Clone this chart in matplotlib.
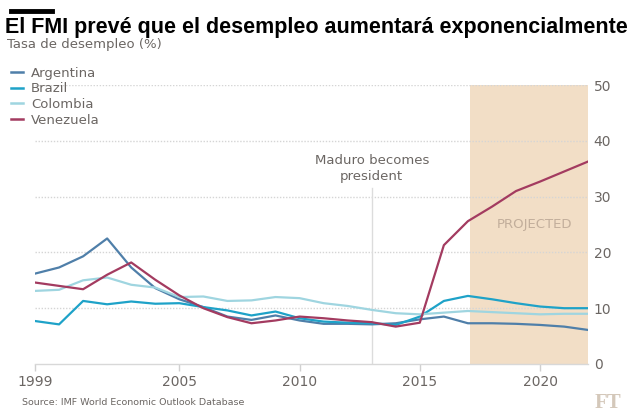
import matplotlib.pyplot as plt
from matplotlib.lines import Line2D

years = list(range(1999, 2023))

argentina = [16.2, 17.3, 19.3, 22.5, 17.3, 13.6, 11.6, 10.2, 8.5, 7.9, 8.7, 7.8,
             7.2, 7.2, 7.1, 7.3, 8.0, 8.5, 7.3, 7.3, 7.2, 7.0, 6.7, 6.1]
brazil = [7.7, 7.1, 11.3, 10.7, 11.2, 10.8, 10.9, 10.2, 9.6, 8.7, 9.4, 8.2,
          7.6, 7.4, 7.3, 7.0, 8.5, 11.3, 12.2, 11.6, 10.9, 10.3, 10.0, 10.0]
colombia = [13.1, 13.3, 15.0, 15.5, 14.2, 13.7, 12.0, 12.1, 11.3, 11.4, 12.0, 11.8,
            10.9, 10.4, 9.7, 9.1, 8.9, 9.2, 9.5, 9.3, 9.1, 8.9, 9.0, 9.0]
venezuela = [14.6, 14.0, 13.4, 16.0, 18.2, 15.1, 12.3, 10.0, 8.4, 7.3, 7.8, 8.5,
             8.2, 7.8, 7.5, 6.7, 7.4, 21.3, 25.6, 28.2, 31.0, 32.7, 34.5, 36.3]

series = [
    ("Argentina", argentina, "#4f7fa9"),
    ("Brazil", brazil, "#1ea2c8"),
    ("Colombia", colombia, "#9fd5e0"),
    ("Venezuela", venezuela, "#a33b60"),
]

x_ticks = [1999, 2005, 2010, 2015, 2020]
y_ticks = [0, 10, 20, 30, 40, 50]
projected_start, projected_end = 2017.1, 2022
maduro_year = 2013

GREY = "#6b6663"
plt.rcParams["font.family"] = ["DejaVu Sans"]

fig = plt.figure(figsize=(6.4, 4.19), dpi=100)
ax = fig.add_axes([0.0547, 0.1313, 0.8643, 0.6657])

ax.axvspan(projected_start, projected_end, ymin=0, ymax=1, color="#f2dec6", lw=0, zorder=0)
for y in y_ticks[1:]:
    ax.axhline(y, color="#d5d5d5", lw=1, ls=(0, (1, 1.2)), zorder=1)
ax.plot([maduro_year, maduro_year], [0, 31.5], color="#dcdcdc", lw=1, zorder=1)

for name, vals, col in series:
    ax.plot(years, vals, color=col, lw=1.6, label=name, zorder=3)

ax.set_xlim(1999, 2022)
ax.set_ylim(0, 50)
ax.set_xticks(x_ticks)
ax.set_yticks(y_ticks)
ax.yaxis.tick_right()
ax.tick_params(axis="x", colors="#d0d0d0", length=5, width=1, labelcolor=GREY,
               labelsize=10, pad=3)
ax.tick_params(axis="y", length=0, labelcolor=GREY, labelsize=10, pad=4)
for s in ["top", "left", "right"]:
    ax.spines[s].set_visible(False)
ax.spines["bottom"].set_color("#d8d8d8")
ax.spines["bottom"].set_linewidth(1)

ax.text(2019.75, 25.0, "PROJECTED", color="#c2ae9b", fontsize=9.5, ha="center", va="center")
ax.text(maduro_year, 35.0, "Maduro becomes\npresident", color=GREY, fontsize=9.5,
        ha="center", va="center", linespacing=1.3)

handles = [Line2D([], [], color=c, lw=1.8) for _, _, c in series]
leg = fig.legend(handles, [n for n, _, _ in series], loc="upper left",
                 bbox_to_anchor=(0.0, 0.866), frameon=False, fontsize=9.5,
                 handlelength=0.95, handletextpad=0.6, labelspacing=0.2,
                 borderaxespad=0.4)
for t in leg.get_texts():
    t.set_color(GREY)

fig.add_artist(Line2D([0.017, 0.081], [0.974, 0.974], color="black", lw=3.5))
fig.text(0.008, 0.935, "El FMI prevé que el desempleo aumentará exponencialmente",
         fontsize=15.5, fontweight="bold", family="Liberation Sans", va="center")
fig.text(0.011, 0.893, "Tasa de desempleo (%)", color=GREY, fontsize=9.5, va="center")
fig.text(0.034, 0.04, "Source: IMF World Economic Outlook Database", color=GREY,
         fontsize=6.8, va="center")
fig.text(0.929, 0.037, "FT", color="#d4c8ba", fontsize=15, fontweight="bold",
         family="Liberation Serif", va="center")

fig.savefig("out.png", dpi=100)
